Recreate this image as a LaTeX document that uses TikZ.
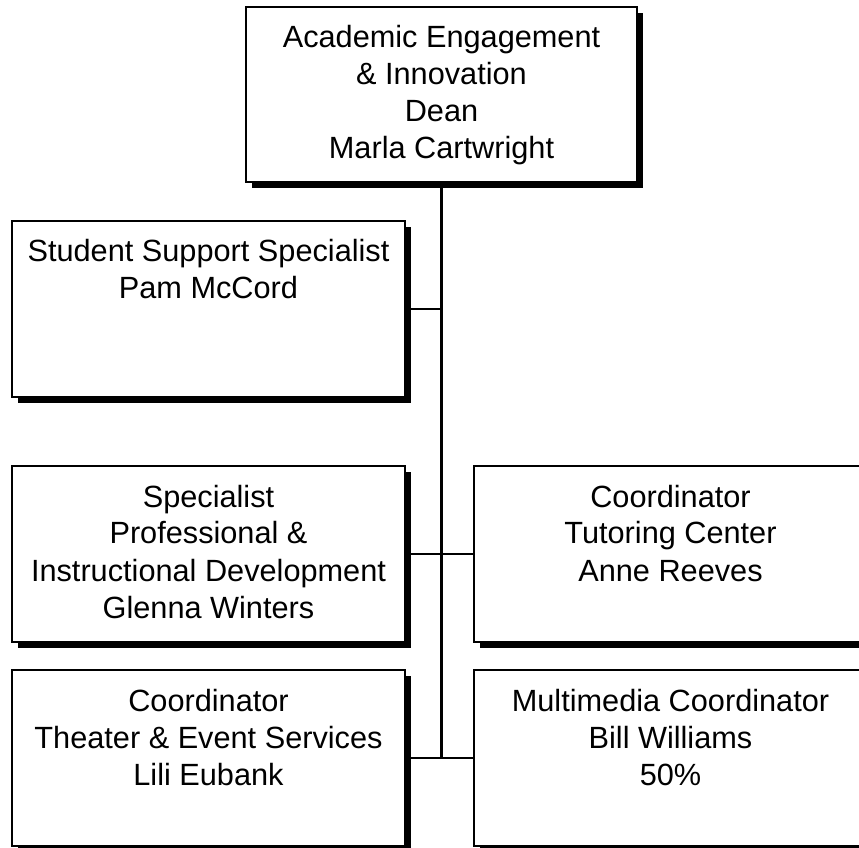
\documentclass[tikz,border=0pt]{standalone}
\usepackage{fontspec}
\setmainfont{Liberation Sans}
\usetikzlibrary{shadows}

\newcommand{\orglines}[1]{\begin{tabular}[t]{@{}c@{}}#1\end{tabular}}

\begin{document}
\begin{tikzpicture}[x=1pt, y=1pt,
    orgbox/.style={draw, line width=2.6pt, fill=white, inner sep=0pt,
      minimum width=393pt, minimum height=176pt,
      text height=41pt, text depth=135pt,
      font=\fontsize{30.7}{37}\selectfont,
      drop shadow={shadow xshift=6pt, shadow yshift=-6pt, fill=black, opacity=1}},
    link/.style={line width=2.2pt}]
      \useasboundingbox (0, 0) rectangle (859, 847);
      % top of the chart
      \node [orgbox, minimum width=391pt, minimum height=175pt, text depth=134pt] (dean) at (441.5, 752.5) {\orglines{Academic Engagement\\ \& Innovation\\ Dean\\ Marla Cartwright}};
      % left column
      \node [orgbox] (support) at (208.5, 538) {\orglines{Student Support Specialist\\ Pam McCord}};
      \node [orgbox] (specialist) at (208.5, 293) {\orglines{Specialist\\ Professional \&\\ Instructional Development\\ Glenna Winters}};
      \node [orgbox] (theater) at (208.5, 89) {\orglines{Coordinator\\ Theater \& Event Services\\ Lili Eubank}};
      % right column
      \node [orgbox] (tutoring) at (670.5, 293) {\orglines{Coordinator\\ Tutoring Center\\ Anne Reeves}};
      \node [orgbox] (media) at (670.5, 89) {\orglines{Multimedia Coordinator\\ Bill Williams\\ 50\%}};
      % connectors
      \coordinate (trunk) at (dean.south |- theater.east);
      \coordinate (tap) at (dean.south |- support.east);
      \draw[link] (dean.south) -- (trunk);
      \draw[link] (support.east) -- (tap);
      \draw[link] (specialist.east) -- (tutoring.west);
      \draw[link] (theater.east) -- (media.west);
\end{tikzpicture}
\end{document}
